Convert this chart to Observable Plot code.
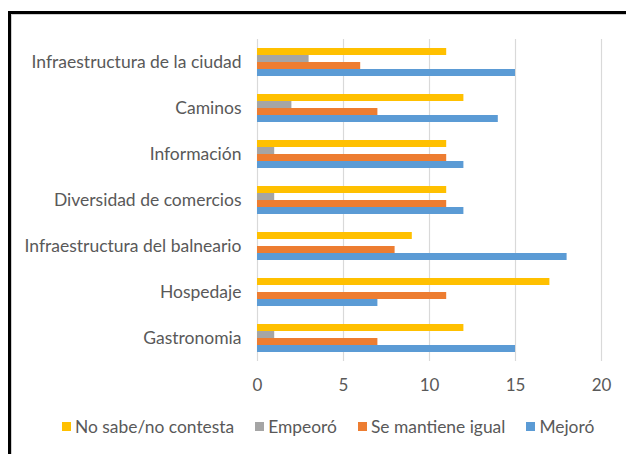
<!DOCTYPE html>
<html>
<head>
<meta charset="utf-8">
<script src="https://cdn.jsdelivr.net/npm/d3@7"></script>
<script src="https://cdn.jsdelivr.net/npm/@observablehq/plot@0.6"></script>
<style>
  html, body { margin: 0; padding: 0; background: #fff; }
  body { width: 626px; height: 454px; overflow: hidden; position: relative; font-family: Lato, "Liberation Sans", sans-serif; }
  #frame { position: absolute; left: 8px; top: 11px; width: 640px; height: 470px;
           border-top: 3px solid #000; border-left: 3px solid #000;
           box-shadow: inset 1px 1px 0 #cfcfcf; }
  #legend { position: absolute; left: 51px; top: 402px; display: flex; align-items: center;
            font-size: 17.4px; color: #595959; white-space: nowrap; }
  #legend .item { display: flex; align-items: center; margin-right: 21px; }
  #legend .sw { width: 9px; height: 9px; margin-right: 4px; }
</style>
</head>
<body>
<div id="frame"><div id="chart"></div><div id="legend"></div></div>
<script>
const categories = ["Infraestructura de la ciudad", "Caminos", "Información", "Diversidad de comercios",
                    "Infraestructura del balneario", "Hospedaje", "Gastronomia"];
const series = ["No sabe/no contesta", "Empeoró", "Se mantiene igual", "Mejoró"];
const colors = ["#FFC000", "#A5A5A5", "#ED7D31", "#5B9BD5"];
const noSabe   = [11, 12, 11, 11, 9, 17, 12];
const empeoro  = [3, 2, 1, 1, 0, 0, 1];
const igual    = [6, 7, 11, 11, 8, 11, 7];
const mejoro   = [15, 14, 12, 12, 18, 7, 15];
const xTicks = [0, 5, 10, 15, 20];

const valuesBySeries = [noSabe, empeoro, igual, mejoro];
const data = [];
categories.forEach((c, i) => series.forEach((s, j) => data.push({category: c, series: s, value: valuesBySeries[j][i]})));

const chart = Plot.plot({
  width: 615,
  height: 393,
  marginLeft: 246,
  marginRight: 25,
  marginTop: 23,
  marginBottom: 45,
  style: {fontFamily: "Lato, 'Liberation Sans', sans-serif", fontSize: "17px", color: "#595959", background: "transparent"},
  x: {domain: [0, 20], ticks: xTicks, label: null},
  y: {domain: series, paddingInner: 0, paddingOuter: 0.9, axis: null},
  fy: {domain: categories, padding: 0, label: null},
  color: {domain: series, range: colors},
  marks: [
    Plot.gridX(xTicks, {stroke: "#d9d9d9", strokeOpacity: 1, strokeWidth: 1.2}),
    Plot.barX(data, {x: "value", y: "series", fy: "category", fill: "series", insetTop: 0, insetBottom: 0}),
    Plot.axisX({ticks: xTicks, tickSize: 0, tickPadding: 17, label: null, fill: "#595959", fontSize: 17}),
    Plot.axisFy({anchor: "left", tickSize: 0, tickPadding: 16, label: null, fill: "#595959", fontSize: 17.5})
  ]
});
document.getElementById("chart").appendChild(chart);

const legend = document.getElementById("legend");
series.forEach((s, j) => {
  const item = document.createElement("div");
  item.className = "item";
  const sw = document.createElement("span");
  sw.className = "sw";
  sw.style.background = colors[j];
  const t = document.createElement("span");
  t.textContent = s;
  item.appendChild(sw); item.appendChild(t);
  legend.appendChild(item);
});
</script>
</body>
</html>
